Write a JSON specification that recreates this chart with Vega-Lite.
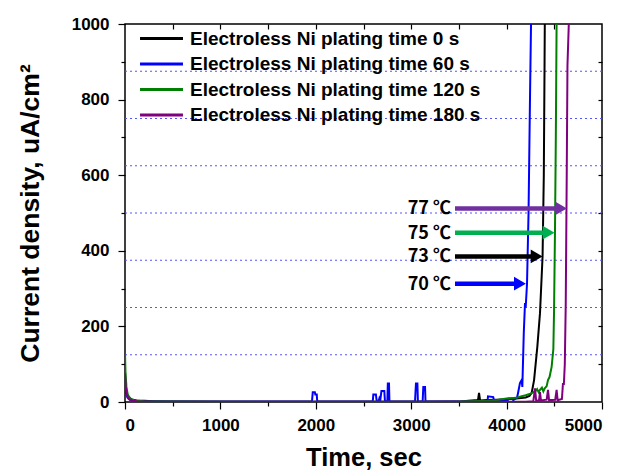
{
  "$schema": "https://vega.github.io/schema/vega-lite/v6.json",
  "width": 477,
  "height": 378,
  "autosize": {"type": "none"},
  "padding": {"left": 125, "top": 24, "right": 23, "bottom": 73},
  "background": "white",
  "config": {
    "view": {"stroke": "#000000", "strokeWidth": 1.5},
    "font": "Liberation Sans",
    "axis": {"domain": false, "grid": false, "tickColor": "#000000", "labelColor": "#000000", "titleColor": "#000000"}
  },
  "datasets": {
    "series": [
      {"s": "Electroless Ni plating time 0 s", "t": 0, "v": 60},
      {"s": "Electroless Ni plating time 0 s", "t": 10, "v": 35},
      {"s": "Electroless Ni plating time 0 s", "t": 20, "v": 22},
      {"s": "Electroless Ni plating time 0 s", "t": 40, "v": 12},
      {"s": "Electroless Ni plating time 0 s", "t": 70, "v": 7},
      {"s": "Electroless Ni plating time 0 s", "t": 120, "v": 4},
      {"s": "Electroless Ni plating time 0 s", "t": 200, "v": 3},
      {"s": "Electroless Ni plating time 0 s", "t": 300, "v": 2},
      {"s": "Electroless Ni plating time 0 s", "t": 500, "v": 1},
      {"s": "Electroless Ni plating time 0 s", "t": 1000, "v": 0.5},
      {"s": "Electroless Ni plating time 0 s", "t": 3000, "v": 0.5},
      {"s": "Electroless Ni plating time 0 s", "t": 3500, "v": 1},
      {"s": "Electroless Ni plating time 0 s", "t": 3600, "v": 3},
      {"s": "Electroless Ni plating time 0 s", "t": 3700, "v": 5},
      {"s": "Electroless Ni plating time 0 s", "t": 3711, "v": 24},
      {"s": "Electroless Ni plating time 0 s", "t": 3722, "v": 4},
      {"s": "Electroless Ni plating time 0 s", "t": 3800, "v": 5},
      {"s": "Electroless Ni plating time 0 s", "t": 3900, "v": 6},
      {"s": "Electroless Ni plating time 0 s", "t": 4000, "v": 7},
      {"s": "Electroless Ni plating time 0 s", "t": 4100, "v": 9},
      {"s": "Electroless Ni plating time 0 s", "t": 4200, "v": 12},
      {"s": "Electroless Ni plating time 0 s", "t": 4240, "v": 16},
      {"s": "Electroless Ni plating time 0 s", "t": 4263, "v": 24},
      {"s": "Electroless Ni plating time 0 s", "t": 4288, "v": 58},
      {"s": "Electroless Ni plating time 0 s", "t": 4322, "v": 146},
      {"s": "Electroless Ni plating time 0 s", "t": 4350, "v": 235},
      {"s": "Electroless Ni plating time 0 s", "t": 4377, "v": 385},
      {"s": "Electroless Ni plating time 0 s", "t": 4390, "v": 600},
      {"s": "Electroless Ni plating time 0 s", "t": 4398, "v": 900},
      {"s": "Electroless Ni plating time 0 s", "t": 4405, "v": 1200},

      {"s": "Electroless Ni plating time 60 s", "t": 0, "v": 50},
      {"s": "Electroless Ni plating time 60 s", "t": 10, "v": 25},
      {"s": "Electroless Ni plating time 60 s", "t": 25, "v": 12},
      {"s": "Electroless Ni plating time 60 s", "t": 50, "v": 6},
      {"s": "Electroless Ni plating time 60 s", "t": 100, "v": 3},
      {"s": "Electroless Ni plating time 60 s", "t": 200, "v": 1.5},
      {"s": "Electroless Ni plating time 60 s", "t": 400, "v": 1},
      {"s": "Electroless Ni plating time 60 s", "t": 1960, "v": 1},
      {"s": "Electroless Ni plating time 60 s", "t": 1968, "v": 26},
      {"s": "Electroless Ni plating time 60 s", "t": 1990, "v": 26},
      {"s": "Electroless Ni plating time 60 s", "t": 1995, "v": 20},
      {"s": "Electroless Ni plating time 60 s", "t": 2010, "v": 20},
      {"s": "Electroless Ni plating time 60 s", "t": 2015, "v": 1},
      {"s": "Electroless Ni plating time 60 s", "t": 2597, "v": 1},
      {"s": "Electroless Ni plating time 60 s", "t": 2603, "v": 20},
      {"s": "Electroless Ni plating time 60 s", "t": 2630, "v": 20},
      {"s": "Electroless Ni plating time 60 s", "t": 2638, "v": 3},
      {"s": "Electroless Ni plating time 60 s", "t": 2660, "v": 3},
      {"s": "Electroless Ni plating time 60 s", "t": 2666, "v": 9},
      {"s": "Electroless Ni plating time 60 s", "t": 2675, "v": 3},
      {"s": "Electroless Ni plating time 60 s", "t": 2688, "v": 29},
      {"s": "Electroless Ni plating time 60 s", "t": 2718, "v": 29},
      {"s": "Electroless Ni plating time 60 s", "t": 2725, "v": 2},
      {"s": "Electroless Ni plating time 60 s", "t": 2750, "v": 2},
      {"s": "Electroless Ni plating time 60 s", "t": 2755, "v": 49},
      {"s": "Electroless Ni plating time 60 s", "t": 2767, "v": 49},
      {"s": "Electroless Ni plating time 60 s", "t": 2772, "v": 1},
      {"s": "Electroless Ni plating time 60 s", "t": 3040, "v": 1},
      {"s": "Electroless Ni plating time 60 s", "t": 3045, "v": 26},
      {"s": "Electroless Ni plating time 60 s", "t": 3050, "v": 49},
      {"s": "Electroless Ni plating time 60 s", "t": 3065, "v": 49},
      {"s": "Electroless Ni plating time 60 s", "t": 3070, "v": 1},
      {"s": "Electroless Ni plating time 60 s", "t": 3120, "v": 2},
      {"s": "Electroless Ni plating time 60 s", "t": 3127, "v": 40},
      {"s": "Electroless Ni plating time 60 s", "t": 3145, "v": 40},
      {"s": "Electroless Ni plating time 60 s", "t": 3150, "v": 1},
      {"s": "Electroless Ni plating time 60 s", "t": 3800, "v": 2},
      {"s": "Electroless Ni plating time 60 s", "t": 3805, "v": 15},
      {"s": "Electroless Ni plating time 60 s", "t": 3860, "v": 13},
      {"s": "Electroless Ni plating time 60 s", "t": 3870, "v": 2},
      {"s": "Electroless Ni plating time 60 s", "t": 4010, "v": 3},
      {"s": "Electroless Ni plating time 60 s", "t": 4020, "v": 9},
      {"s": "Electroless Ni plating time 60 s", "t": 4055, "v": 9},
      {"s": "Electroless Ni plating time 60 s", "t": 4070, "v": 5},
      {"s": "Electroless Ni plating time 60 s", "t": 4110, "v": 12},
      {"s": "Electroless Ni plating time 60 s", "t": 4120, "v": 24},
      {"s": "Electroless Ni plating time 60 s", "t": 4140, "v": 50},
      {"s": "Electroless Ni plating time 60 s", "t": 4158, "v": 58},
      {"s": "Electroless Ni plating time 60 s", "t": 4165, "v": 40},
      {"s": "Electroless Ni plating time 60 s", "t": 4180, "v": 182},
      {"s": "Electroless Ni plating time 60 s", "t": 4193, "v": 262},
      {"s": "Electroless Ni plating time 60 s", "t": 4200, "v": 250},
      {"s": "Electroless Ni plating time 60 s", "t": 4214, "v": 313},
      {"s": "Electroless Ni plating time 60 s", "t": 4230, "v": 500},
      {"s": "Electroless Ni plating time 60 s", "t": 4245, "v": 800},
      {"s": "Electroless Ni plating time 60 s", "t": 4256, "v": 1000},
      {"s": "Electroless Ni plating time 60 s", "t": 4262, "v": 1200},

      {"s": "Electroless Ni plating time 120 s", "t": 0, "v": 130},
      {"s": "Electroless Ni plating time 120 s", "t": 5, "v": 80},
      {"s": "Electroless Ni plating time 120 s", "t": 15, "v": 40},
      {"s": "Electroless Ni plating time 120 s", "t": 30, "v": 18},
      {"s": "Electroless Ni plating time 120 s", "t": 60, "v": 8},
      {"s": "Electroless Ni plating time 120 s", "t": 100, "v": 4},
      {"s": "Electroless Ni plating time 120 s", "t": 200, "v": 2},
      {"s": "Electroless Ni plating time 120 s", "t": 400, "v": 1},
      {"s": "Electroless Ni plating time 120 s", "t": 2000, "v": 0.5},
      {"s": "Electroless Ni plating time 120 s", "t": 3500, "v": 1},
      {"s": "Electroless Ni plating time 120 s", "t": 3800, "v": 3},
      {"s": "Electroless Ni plating time 120 s", "t": 3900, "v": 5},
      {"s": "Electroless Ni plating time 120 s", "t": 4000, "v": 9},
      {"s": "Electroless Ni plating time 120 s", "t": 4100, "v": 11},
      {"s": "Electroless Ni plating time 120 s", "t": 4140, "v": 14},
      {"s": "Electroless Ni plating time 120 s", "t": 4200, "v": 18},
      {"s": "Electroless Ni plating time 120 s", "t": 4250, "v": 22},
      {"s": "Electroless Ni plating time 120 s", "t": 4300, "v": 28},
      {"s": "Electroless Ni plating time 120 s", "t": 4320, "v": 34},
      {"s": "Electroless Ni plating time 120 s", "t": 4335, "v": 26},
      {"s": "Electroless Ni plating time 120 s", "t": 4350, "v": 32},
      {"s": "Electroless Ni plating time 120 s", "t": 4370, "v": 38},
      {"s": "Electroless Ni plating time 120 s", "t": 4385, "v": 28},
      {"s": "Electroless Ni plating time 120 s", "t": 4400, "v": 36},
      {"s": "Electroless Ni plating time 120 s", "t": 4420, "v": 42},
      {"s": "Electroless Ni plating time 120 s", "t": 4434, "v": 58},
      {"s": "Electroless Ni plating time 120 s", "t": 4450, "v": 66},
      {"s": "Electroless Ni plating time 120 s", "t": 4472, "v": 93},
      {"s": "Electroless Ni plating time 120 s", "t": 4490, "v": 140},
      {"s": "Electroless Ni plating time 120 s", "t": 4497, "v": 235},
      {"s": "Electroless Ni plating time 120 s", "t": 4507, "v": 448},
      {"s": "Electroless Ni plating time 120 s", "t": 4516, "v": 700},
      {"s": "Electroless Ni plating time 120 s", "t": 4524, "v": 1000},
      {"s": "Electroless Ni plating time 120 s", "t": 4530, "v": 1200},

      {"s": "Electroless Ni plating time 180 s", "t": 0, "v": 77},
      {"s": "Electroless Ni plating time 180 s", "t": 8, "v": 40},
      {"s": "Electroless Ni plating time 180 s", "t": 20, "v": 18},
      {"s": "Electroless Ni plating time 180 s", "t": 40, "v": 8},
      {"s": "Electroless Ni plating time 180 s", "t": 80, "v": 3},
      {"s": "Electroless Ni plating time 180 s", "t": 150, "v": 1},
      {"s": "Electroless Ni plating time 180 s", "t": 300, "v": 0.5},
      {"s": "Electroless Ni plating time 180 s", "t": 4200, "v": 0.5},
      {"s": "Electroless Ni plating time 180 s", "t": 4280, "v": 2},
      {"s": "Electroless Ni plating time 180 s", "t": 4298, "v": 36},
      {"s": "Electroless Ni plating time 180 s", "t": 4310, "v": 3},
      {"s": "Electroless Ni plating time 180 s", "t": 4340, "v": 5},
      {"s": "Electroless Ni plating time 180 s", "t": 4350, "v": 26},
      {"s": "Electroless Ni plating time 180 s", "t": 4360, "v": 4},
      {"s": "Electroless Ni plating time 180 s", "t": 4420, "v": 6},
      {"s": "Electroless Ni plating time 180 s", "t": 4434, "v": 32},
      {"s": "Electroless Ni plating time 180 s", "t": 4445, "v": 5},
      {"s": "Electroless Ni plating time 180 s", "t": 4510, "v": 6},
      {"s": "Electroless Ni plating time 180 s", "t": 4524, "v": 32},
      {"s": "Electroless Ni plating time 180 s", "t": 4535, "v": 5},
      {"s": "Electroless Ni plating time 180 s", "t": 4580, "v": 8},
      {"s": "Electroless Ni plating time 180 s", "t": 4591, "v": 50},
      {"s": "Electroless Ni plating time 180 s", "t": 4600, "v": 45},
      {"s": "Electroless Ni plating time 180 s", "t": 4610, "v": 100},
      {"s": "Electroless Ni plating time 180 s", "t": 4620, "v": 260},
      {"s": "Electroless Ni plating time 180 s", "t": 4630, "v": 590},
      {"s": "Electroless Ni plating time 180 s", "t": 4638, "v": 890},
      {"s": "Electroless Ni plating time 180 s", "t": 4652, "v": 1000},
      {"s": "Electroless Ni plating time 180 s", "t": 4658, "v": 1200}
    ],
    "grid": [
      {"v": 125}, {"v": 250}, {"v": 375}, {"v": 500}, {"v": 625}, {"v": 750}, {"v": 875}
    ],
    "arrows": [
      {"temp": "77 ℃", "t": 3459, "th": 4570, "v": 512},
      {"temp": "75 ℃", "t": 3459, "th": 4440, "v": 448},
      {"temp": "73 ℃", "t": 3459, "th": 4315, "v": 385},
      {"temp": "70 ℃", "t": 3459, "th": 4140, "v": 313}
    ]
  },
  "layer": [
    {
      "data": {"name": "grid"},
      "mark": {"type": "rule", "color": "#5555ff", "strokeDash": [2, 3], "strokeWidth": 1.2},
      "encoding": {
        "y": {"field": "v", "type": "quantitative", "scale": {"domain": [0, 1000], "nice": false}, "axis": null}
      }
    },
    {
      "data": {"name": "series"},
      "mark": {"type": "line", "strokeWidth": 2, "clip": true},
      "encoding": {
        "x": {
          "field": "t", "type": "quantitative",
          "scale": {"domain": [0, 5000], "nice": false},
          "axis": {
            "orient": "bottom", "values": [0, 500, 1000, 1500, 2000, 2500, 3000, 3500, 4000, 4500, 5000],
            "format": "d",
            "labelExpr": "datum.value % 1000 === 0 ? datum.label : ''",
            "tickSize": {"condition": {"test": "datum.value % 1000 === 0", "value": 7}, "value": 4},
            "tickWidth": 1.2,
            "labelFontSize": 17, "labelFontWeight": "bold", "labelPadding": 8,
            "title": "Time, sec", "titleFontSize": 25.5, "titleFontWeight": "bold", "titlePadding": 12
          }
        },
        "y": {
          "field": "v", "type": "quantitative",
          "scale": {"domain": [0, 1000], "nice": false},
          "axis": {
            "orient": "left", "values": [0, 100, 200, 300, 400, 500, 600, 700, 800, 900, 1000],
            "format": "d",
            "labelExpr": "datum.value % 200 === 0 ? datum.label : ''",
            "tickSize": {"condition": {"test": "datum.value % 200 === 0", "value": 7}, "value": 4},
            "tickWidth": 1.2,
            "labelFontSize": 17, "labelFontWeight": "bold", "labelPadding": 9,
            "title": "Current density, uA/cm²", "titleFontSize": 26.5, "titleFontWeight": "bold", "titlePadding": 27
          }
        },
        "color": {
          "field": "s", "type": "nominal",
          "scale": {
            "domain": ["Electroless Ni plating time 0 s", "Electroless Ni plating time 60 s", "Electroless Ni plating time 120 s", "Electroless Ni plating time 180 s"],
            "range": ["#000000", "#0000ff", "#008000", "#800080"]
          },
          "legend": {
            "orient": "none", "legendX": 27, "legendY": 5, "title": null,
            "symbolType": "M-3,0H3", "symbolSize": 205, "symbolStrokeWidth": 3,
            "labelFontSize": 19, "labelFontWeight": "bold", "labelFont": "Liberation Sans", "labelColor": "#000000",
            "labelOffset": 19, "rowPadding": 5.5, "labelLimit": 400
          }
        }
      }
    },
    {
      "data": {"name": "arrows"},
      "mark": {"type": "rule", "strokeWidth": 4.5},
      "encoding": {
        "x": {
          "field": "t", "type": "quantitative", "scale": {"domain": [0, 5000], "nice": false},
          "axis": {"orient": "top", "values": [500, 1000, 1500, 2000, 2500, 3000, 3500, 4000, 4500], "labels": false, "tickSize": -5, "tickWidth": 1.2, "title": null}
        },
        "x2": {"field": "th"},
        "y": {
          "field": "v", "type": "quantitative", "scale": {"domain": [0, 1000], "nice": false},
          "axis": {"orient": "right", "values": [100, 200, 300, 400, 500, 600, 700, 800, 900], "labels": false, "tickSize": -4, "tickWidth": 1.2, "title": null}
        },
        "stroke": {
          "field": "temp", "type": "nominal",
          "scale": {"domain": ["77 ℃", "75 ℃", "73 ℃", "70 ℃"], "range": ["#7030a0", "#00b050", "#000000", "#0000ff"]},
          "legend": null
        }
      }
    },
    {
      "data": {"name": "arrows"},
      "mark": {"type": "point", "shape": "triangle-right", "filled": true, "size": 190, "opacity": 1},
      "encoding": {
        "x": {"field": "th", "type": "quantitative", "scale": {"domain": [0, 5000], "nice": false}, "axis": null},
        "y": {"field": "v", "type": "quantitative", "scale": {"domain": [0, 1000], "nice": false}, "axis": null},
        "fill": {
          "field": "temp", "type": "nominal",
          "scale": {"domain": ["77 ℃", "75 ℃", "73 ℃", "70 ℃"], "range": ["#7030a0", "#00b050", "#000000", "#0000ff"]},
          "legend": null
        }
      }
    },
    {
      "data": {"name": "arrows"},
      "mark": {"type": "text", "align": "right", "baseline": "middle", "dx": -4, "dy": 1, "fontSize": 18, "fontWeight": "bold", "font": "Noto Sans CJK KR", "color": "#000000"},
      "encoding": {
        "x": {"field": "t", "type": "quantitative", "scale": {"domain": [0, 5000], "nice": false}, "axis": null},
        "y": {"field": "v", "type": "quantitative", "scale": {"domain": [0, 1000], "nice": false}, "axis": null},
        "text": {"field": "temp"}
      }
    }
  ],
  "resolve": {"axis": {"x": "independent", "y": "independent"}}
}
